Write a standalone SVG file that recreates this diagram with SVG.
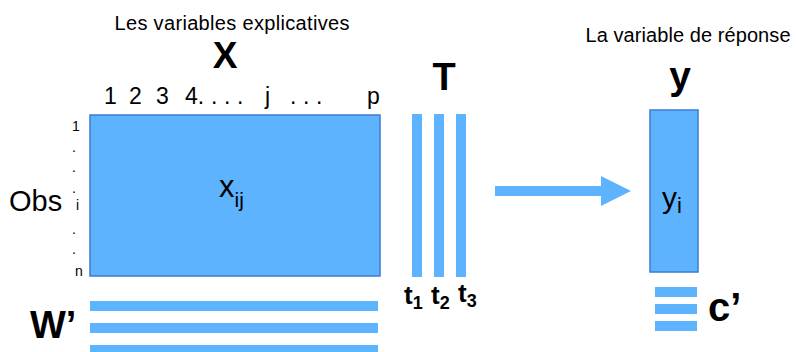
<svg xmlns="http://www.w3.org/2000/svg" width="796" height="352" viewBox="0 0 796 352">
<style>
text{font-family:"Liberation Sans",Arial,sans-serif;fill:#000}
.b{font-weight:bold}
.box{fill:#5eb3ff;stroke:#3a7bd5;stroke-width:1.5}
.bar{fill:#5eb3ff}
</style>
<rect width="796" height="352" fill="#fff"/>
<g id="X">
<text x="232" y="30" font-size="20" text-anchor="middle" textLength="235" lengthAdjust="spacing">Les variables explicatives</text>
<text x="225" y="68" class="b" font-size="37" text-anchor="middle">X</text>
<g font-size="23">
<text x="104" y="104">1</text>
<text x="129" y="104">2</text>
<text x="156" y="104">3</text>
<text x="185" y="104">4.</text>
<text x="211" y="104">.</text>
<text x="224" y="104">.</text>
<text x="237" y="104">.</text>
<text x="265" y="104">j</text>
<text x="290" y="104">.</text>
<text x="303" y="104">.</text>
<text x="316" y="104">.</text>
<text x="367" y="104">p</text>
</g>
<text x="9" y="211" font-size="29">Obs</text>
<g font-size="14">
<text x="72" y="131">1</text>
<text x="72" y="152">.</text>
<text x="72" y="172">.</text>
<text x="72" y="193">.</text>
<text x="76" y="210">i</text>
<text x="72" y="234">.</text>
<text x="72" y="254">.</text>
<text x="75" y="276">n</text>
</g>
<rect class="box" x="90" y="115" width="290" height="161"/>
<text x="219" y="197" font-size="31">x<tspan font-size="21" dy="10">ij</tspan></text>
</g>
<g id="W">
<text x="30" y="338" class="b" font-size="38">W’</text>
<rect class="bar" x="90" y="301" width="288" height="10"/>
<rect class="bar" x="90" y="323" width="288" height="10"/>
<rect class="bar" x="90" y="345" width="288" height="10"/>
</g>
<g id="T">
<text x="444" y="90" class="b" font-size="38" text-anchor="middle">T</text>
<rect class="bar" x="412" y="114" width="10" height="163"/>
<rect class="bar" x="434" y="114" width="10" height="163"/>
<rect class="bar" x="456" y="114" width="10" height="163"/>
<text x="404" y="304" class="b" font-size="26">t<tspan font-size="18" dy="5">1</tspan></text>
<text x="431" y="304" class="b" font-size="26">t<tspan font-size="18" dy="5">2</tspan></text>
<text x="458" y="302" class="b" font-size="26">t<tspan font-size="18" dy="5">3</tspan></text>
</g>
<g id="connectors">
<rect class="bar" x="495" y="186" width="107" height="10"/>
<polygon class="bar" points="601,176 631,191 601,206"/>
</g>
<g id="Y">
<text x="688" y="42" font-size="20" text-anchor="middle" textLength="205" lengthAdjust="spacing">La variable de réponse</text>
<text x="680" y="89" class="b" font-size="39" text-anchor="middle">y</text>
<rect class="box" x="650" y="110" width="48" height="162"/>
<text x="662" y="208" font-size="30">y<tspan font-size="22" dy="5">i</tspan></text>
</g>
<g id="C">
<rect class="bar" x="655" y="287" width="42" height="10"/>
<rect class="bar" x="655" y="304" width="42" height="10"/>
<rect class="bar" x="655" y="321" width="42" height="10"/>
<text x="708" y="321" class="b" font-size="40">c’</text>
</g>
</svg>
